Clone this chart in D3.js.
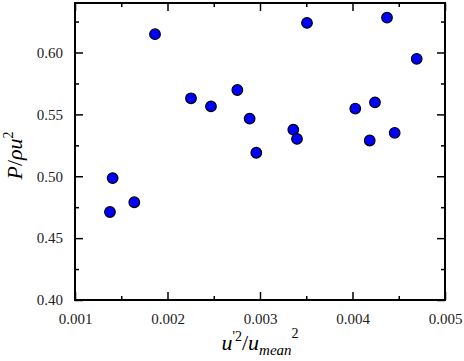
<!DOCTYPE html>
<meta charset="utf-8">
<style>
  body { margin: 0; background: #fff; }
  text { font-family: "Liberation Serif", "Times New Roman", serif; }
</style>
<body>
<script src="https://d3js.org/d3.v7.min.js"></script>
<script>
  // u'^2 / u_mean^2  vs  P / rho u^2
  var xVals = [0.001378, 0.001407, 0.001641, 0.001865, 0.002254, 0.00247, 0.002755, 0.002888, 0.00296,
               0.00336, 0.0034, 0.003508, 0.00403, 0.004186, 0.004243, 0.004373, 0.004456, 0.004694];
  var yVals = [0.4711, 0.4985, 0.479, 0.6148, 0.563, 0.5565, 0.5697, 0.5466, 0.519,
               0.5377, 0.5302, 0.6239, 0.5547, 0.5289, 0.5597, 0.6282, 0.5351, 0.5949];
  var xTicks = [0.001, 0.002, 0.003, 0.004, 0.005];
  var yTicks = [0.40, 0.45, 0.50, 0.55, 0.60];

  var svg = d3.select("body").append("svg")
          .attr("width", 464)
          .attr("height", 361);

  var margin = {top: 3, right: 19, bottom: 61, left: 75},
          width = 464 - margin.left - margin.right,
          height = 361 - margin.top - margin.bottom,
          g = svg.append("g").attr("transform", "translate(" + margin.left + "," + margin.top + ")");

  var x = d3.scaleLinear().domain([0.001, 0.005]).range([0, width]);
  var y = d3.scaleLinear().domain([0.40, 0.64]).range([height, 0]);

  var xMinor = d3.range(0.0015, 0.005, 0.001);
  var yMinor = d3.range(0.425, 0.64, 0.05);

  function styleAxis(sel) {
    sel.attr("font-family", "Liberation Serif, serif");
    sel.select(".domain").remove();
    sel.selectAll("line").attr("stroke", "#000").attr("stroke-width", 1.5);
    sel.selectAll("text").attr("font-size", 15).attr("fill", "#222")
      .attr("font-family", "Liberation Serif, serif");
  }

  // bottom
  g.append("g").attr("transform", "translate(0," + height + ")")
    .call(d3.axisBottom(x).tickValues(xTicks).tickFormat(d3.format(".3f")).tickSizeInner(-8).tickPadding(13).tickSizeOuter(0))
    .call(styleAxis);
  g.append("g").attr("transform", "translate(0," + height + ")")
    .call(d3.axisBottom(x).tickValues(xMinor).tickFormat("").tickSizeInner(-4).tickSizeOuter(0))
    .call(styleAxis);
  // top
  g.append("g")
    .call(d3.axisTop(x).tickValues(xTicks).tickFormat("").tickSizeInner(-8).tickSizeOuter(0))
    .call(styleAxis);
  g.append("g")
    .call(d3.axisTop(x).tickValues(xMinor).tickFormat("").tickSizeInner(-4).tickSizeOuter(0))
    .call(styleAxis);
  // left
  g.append("g")
    .call(d3.axisLeft(y).tickValues(yTicks).tickFormat(d3.format(".2f")).tickSizeInner(-8).tickPadding(12).tickSizeOuter(0))
    .call(styleAxis);
  g.append("g")
    .call(d3.axisLeft(y).tickValues(yMinor).tickFormat("").tickSizeInner(-4).tickSizeOuter(0))
    .call(styleAxis);
  // right
  g.append("g").attr("transform", "translate(" + width + ",0)")
    .call(d3.axisRight(y).tickValues(yTicks).tickFormat("").tickSizeInner(-8).tickSizeOuter(0))
    .call(styleAxis);
  g.append("g").attr("transform", "translate(" + width + ",0)")
    .call(d3.axisRight(y).tickValues(yMinor).tickFormat("").tickSizeInner(-4).tickSizeOuter(0))
    .call(styleAxis);

  // frame
  g.append("rect")
    .attr("width", width)
    .attr("height", height)
    .attr("fill", "none")
    .attr("stroke", "#000")
    .attr("stroke-width", 2);

  var data = xVals.map(function(d, i) { return {x: d, y: yVals[i]}; });

  g.selectAll("circle")
    .data(data)
    .enter()
    .append("circle")
    .attr("cx", function(d) { return x(d.x); })
    .attr("cy", function(d) { return y(d.y); })
    .attr("r", 5.3)
    .attr("fill", "#0000ff")
    .attr("stroke", "#000")
    .attr("stroke-width", 1.2);

  // x title
  var xt = svg.append("text")
    .attr("x", margin.left + width / 2)
    .attr("y", 350)
    .attr("text-anchor", "middle")
    .attr("font-size", 22);
  xt.append("tspan").attr("font-style", "italic").text("u");
  xt.append("tspan").attr("font-size", 14).attr("dy", -9).text("'2");
  xt.append("tspan").attr("dy", 9).text("/");
  xt.append("tspan").attr("font-style", "italic").text("u");
  xt.append("tspan").attr("font-style", "italic").attr("font-size", 15).attr("dy", 5).text("mean");
  xt.append("tspan").attr("font-size", 14).attr("dy", -17).text("2");

  // y title
  var yt = svg.append("text")
    .attr("transform", "translate(22," + (margin.top + height / 2 + 4) + ") rotate(-90)")
    .attr("text-anchor", "middle")
    .attr("font-size", 22);
  yt.append("tspan").attr("font-style", "italic").text("P");
  yt.append("tspan").text("/");
  yt.append("tspan").attr("font-style", "italic").text("ρu");
  yt.append("tspan").attr("font-size", 14).attr("dy", -9).text("2");
</script>
</body>
</html>
